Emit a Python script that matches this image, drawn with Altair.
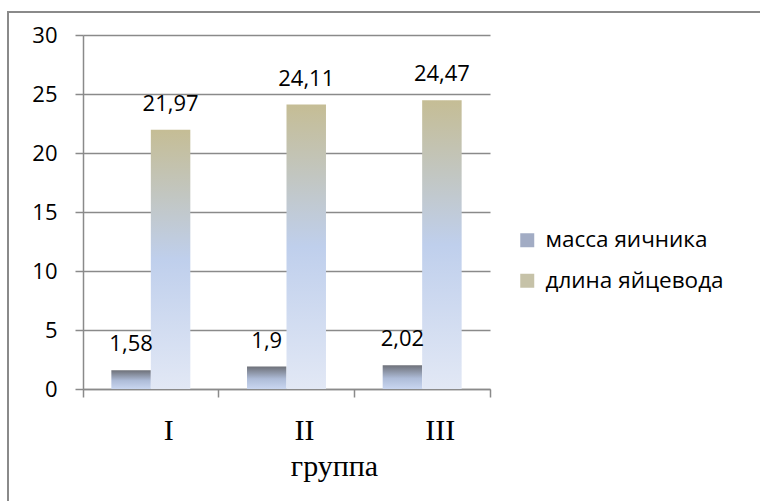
import altair as alt
import pandas as pd

groups = ["I", "II", "III"]
series = ["масса яичника", "длина яйцевода"]
mass_values = [1.58, 1.9, 2.02]
length_values = [21.97, 24.11, 24.47]
y_ticks = [0, 5, 10, 15, 20, 25, 30]

rows = []
for g, m, l in zip(groups, mass_values, length_values):
    rows.append({"group": g, "series": series[0], "value": m})
    rows.append({"group": g, "series": series[1], "value": l})
df = pd.DataFrame(rows)

GRID = "#8a8a8a"


def vgrad(stops):
    return alt.LinearGradient(
        gradient="linear", x1=0, x2=0, y1=0, y2=1,
        stops=[alt.GradientStop(offset=o, color=c) for o, c in stops],
    )


grad_mass = vgrad([(0, "#6e7179"), (0.55, "#aebcd8"), (1, "#c9d6f0")])
grad_len = vgrad([(0, "#c5bd95"), (0.5, "#bfcfec"), (1, "#e2e8f5")])

x_enc = alt.X(
    "group:N", sort=groups,
    scale=alt.Scale(domain=groups, paddingInner=0, paddingOuter=0),
    axis=alt.Axis(
        title="группа", bandPosition=1, tickExtra=True, tickSize=8,
        tickColor=GRID, tickWidth=1.5, domainColor=GRID, domainWidth=1.5,
        labelAngle=0, labelOffset=18, labelPadding=42, labelBaseline="alphabetic",
        labelFont="Liberation Serif", labelFontSize=30, labelColor="#000000",
        titleFont="Liberation Serif", titleFontSize=30, titleFontWeight="normal",
        titleColor="#000000", titleX=251, titleY=86, titleBaseline="alphabetic",
        titleAlign="center", grid=False,
    ),
)
xoff_enc = alt.XOffset(
    "series:N", sort=series,
    scale=alt.Scale(domain=series, paddingInner=0, paddingOuter=0.718),
)
y_enc = alt.Y(
    "value:Q",
    scale=alt.Scale(domain=[0, 30], nice=False),
    axis=alt.Axis(
        title=None, values=y_ticks, tickSize=8, tickColor=GRID, tickWidth=1.5,
        domainColor=GRID, domainWidth=1.5, grid=True, gridColor=GRID, gridWidth=1.5,
        labelFont="Open Sans", labelFontSize=22, labelColor="#000000", labelPadding=18,
    ),
)

base = alt.Chart(df)

mass_bars = base.transform_filter(alt.datum.series == series[0]).mark_bar(
    fill=grad_mass, strokeWidth=0
).encode(x=x_enc, xOffset=xoff_enc, y=y_enc)

len_bars = base.transform_filter(alt.datum.series == series[1]).mark_bar(
    fill=grad_len, strokeWidth=0
).encode(x=x_enc, xOffset=xoff_enc, y=y_enc)

legend_layer = base.mark_bar(opacity=0).encode(
    x=x_enc, xOffset=xoff_enc, y=y_enc,
    color=alt.Color(
        "series:N", sort=series,
        scale=alt.Scale(domain=series, range=["#a2acc4", "#c6c2a8"]),
        legend=alt.Legend(
            title=None, orient="none", legendX=433, legendY=194,
            symbolType="square", symbolSize=196, symbolStrokeWidth=0,
            symbolOpacity=1, labelFont="Open Sans", labelFontSize=22.5,
            labelColor="#000000", labelOffset=7, rowPadding=17.5, padding=0,
            labelLimit=300,
        ),
    ),
)

labels = base.transform_calculate(
    label="replace(toString(datum.value), '.', ',')"
).mark_text(
    font="Open Sans", fontSize=22, color="#000000", baseline="alphabetic", dy=-19
).encode(x=x_enc, xOffset=xoff_enc, y=y_enc, text="label:N")

frame = alt.Chart(pd.DataFrame({"a": [0]})).mark_rect(
    fill=None, stroke=GRID, strokeWidth=2, clip=False
).encode(
    x=alt.value(-75), x2=alt.value(680), y=alt.value(-23), y2=alt.value(130 + 354)
)

chart = alt.layer(mass_bars, len_bars, legend_layer, labels, frame).properties(
    width=407, height=354,
    autosize=alt.AutoSizeParams(type="none"),
    padding={"left": 83, "top": 35, "right": 270, "bottom": 112},
    background="white",
).configure_view(stroke=None)

chart.save("out.html", embed_options={"renderer": "svg", "actions": False})
